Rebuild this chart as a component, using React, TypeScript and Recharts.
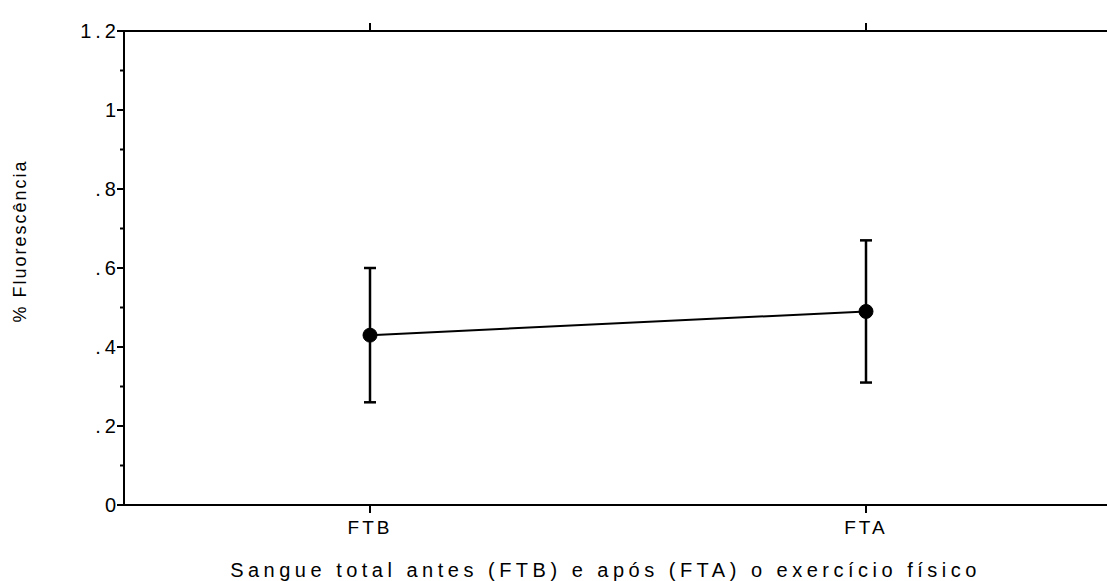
import React from 'react';
import {
  LineChart,
  Line,
  XAxis,
  YAxis,
  ErrorBar,
} from 'recharts';

// Values
const categories = ['FTB', 'FTA'];
const means = [0.43, 0.49];
const upperValues = [0.6, 0.67];
const lowerValues = [0.26, 0.31];
const yTicks = [0, 0.1, 0.2, 0.3, 0.4, 0.5, 0.6, 0.7, 0.8, 0.9, 1.0, 1.1, 1.2];

const data = categories.map((name, i) => ({
  name,
  mean: means[i],
  err: [means[i] - lowerValues[i], upperValues[i] - means[i]],
}));

const FONT = '"Liberation Sans", Arial, sans-serif';

const formatY = (v: number) => {
  if (v === 0) return '0';
  if (Math.abs(v - 1) < 1e-6) return '1';
  const s = v.toFixed(1);
  return s.startsWith('0') ? s.slice(1) : s;
};

// left axis tick: long tick + label on even tenths, short tick otherwise
const YTick = (props: any) => {
  const { x, y, payload } = props;
  const major = Math.round(payload.value * 10) % 2 === 0;
  return (
    <g>
      <line x1={x - (major ? 7 : 4)} x2={x} y1={y} y2={y} stroke="#000" strokeWidth={2} />
      {major && (
        <text
          x={x - 4}
          y={y}
          dy={7}
          textAnchor="end"
          fontFamily={FONT}
          fontSize={20}
          letterSpacing={4}
          fill="#000"
        >
          {formatY(payload.value)}
        </text>
      )}
    </g>
  );
};

const YLabel = () => (
  <text
    x={26}
    y={241}
    transform="rotate(-90, 26, 241)"
    textAnchor="middle"
    fontFamily={FONT}
    fontSize={18}
    letterSpacing={2}
    fill="#000"
    style={{ fill: '#000' }}
  >
    % Fluorescência
  </text>
);

export default function App() {
  return (
    <div style={{ position: 'absolute', left: 0, top: 0, background: '#fff' }}>
      <LineChart
        width={1107}
        height={581}
        data={data}
        margin={{ top: 1, right: 0, bottom: 0, left: 0 }}
      >
        <XAxis
          dataKey="name"
          xAxisId="bottom"
          height={76}
          padding={{ left: 246, right: 241 }}
          stroke="#000"
          strokeWidth={2}
          tickSize={8}
          tickMargin={8}
          tick={{ fontFamily: FONT, fontSize: 19, fill: '#000', letterSpacing: 3 }}
          label={{
            value: 'Sangue total antes (FTB) e após (FTA) o exercício físico',
            position: 'insideBottom',
            offset: 4,
            dx: -10,
            style: { fontFamily: FONT, fontSize: 20, fill: '#000', letterSpacing: 4.5 },
          }}
        />
        <XAxis
          dataKey="name"
          xAxisId="top"
          orientation="top"
          height={30}
          padding={{ left: 246, right: 241 }}
          stroke="#000"
          strokeWidth={2}
          tickSize={8}
          tickFormatter={() => ''}
        />
        <YAxis
          width={124}
          domain={[0, 1.2]}
          ticks={yTicks}
          interval={0}
          type="number"
          stroke="#000"
          strokeWidth={2}
          tickLine={false}
          tickSize={0}
          tickMargin={0}
          tick={<YTick />}
          label={<YLabel />}
        />
        <Line
          xAxisId="bottom"
          dataKey="mean"
          stroke="#000"
          strokeWidth={2}
          dot={{ r: 7, fill: '#000', stroke: '#000', strokeWidth: 1 }}
          isAnimationActive={false}
        >
          <ErrorBar dataKey="err" width={6} stroke="#000" strokeWidth={2.5} isAnimationActive={false} />
        </Line>
      </LineChart>
    </div>
  );
}
